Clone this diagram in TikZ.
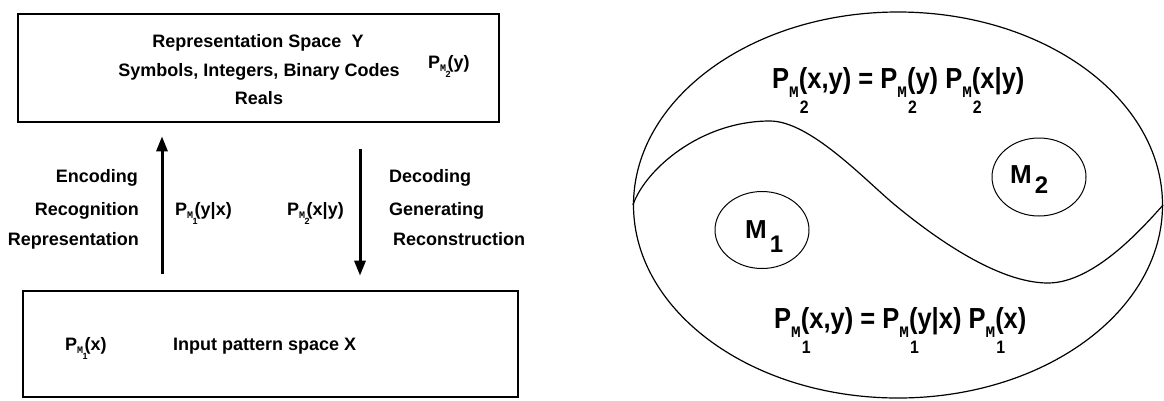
\documentclass[tikz,border=0pt]{standalone}
\usepackage{fontspec}
\setmainfont{Liberation Sans}
\newfontfamily\narrowf{Liberation Sans}[FakeStretch=0.88]
\newfontfamily\monof{Liberation Mono}
\usetikzlibrary{arrows.meta,shapes.geometric}
\newcommand\PMs[1]{P\raisebox{-3pt}{\fontsize{10}{10}\selectfont\monof\bfseries M}\rlap{\kern-0.5pt\raisebox{-9pt}{\fontsize{9}{9}\selectfont\bfseries #1}}\kern1.5pt}
\newcommand\PMl[1]{P\raisebox{-9pt}{\fontsize{16}{16}\selectfont\monof\bfseries M}\rlap{\kern1pt\raisebox{-25pt}{\fontsize{18}{18}\selectfont\narrowf\bfseries #1}}}
\begin{document}
\begin{tikzpicture}[x=1pt,y=-1pt,
  box/.style={draw, line width=2.6pt, inner sep=0pt},
  lab/.style={font=\fontsize{18}{18}\selectfont\bfseries, inner sep=0pt},
  eq/.style={font=\fontsize{29}{29}\selectfont\narrowf\bfseries, inner sep=0pt},
  mlab/.style={font=\fontsize{26}{26}\selectfont\bfseries, inner sep=0pt},
  oval/.style={draw, ellipse, line width=1pt, inner sep=0pt},
  bigarrow/.style={line width=3pt, -{Triangle[length=15pt,width=11pt]}}]
\useasboundingbox (0,0) rectangle (1164,400);
% left boxes
\node[box, minimum width=481pt, minimum height=108pt] (Y) at (258.5,68) {};
\node[box, minimum width=495pt, minimum height=106pt] (X) at (270.5,344) {};
\node[lab, anchor=base] (t1) at (258,47) {Representation Space\ \ Y};
\node[lab, anchor=base] (t2) at (259,76) {Symbols, Integers, Binary Codes};
\node[lab, anchor=base] (t3) at (259,104) {Reals};
\node[lab, anchor=base west] (py) at (428,68) {\PMs{2}(y)};
\node[lab, anchor=base west] (px) at (65,350) {\PMs{1}(x)};
\node[lab, anchor=base west] (ip) at (173,350) {Input pattern space X};
% arrows
\coordinate (upx) at (162,0);
\coordinate (dnx) at (360,0);
\draw[bigarrow, shorten <=16pt, shorten >=13pt] (X.north -| upx) -- (Y.south -| upx);
\draw[bigarrow, shorten <=26pt, shorten >=14pt] (Y.south -| dnx) -- (X.north -| dnx);
\node[lab, anchor=base east] (enc) at (138,182) {Encoding};
\node[lab, anchor=base east] (rec) at (139,215) {Recognition};
\node[lab, anchor=base east] (rep) at (139,245) {Representation};
\node[lab, anchor=base west] (pyx) at (175,215) {\PMs{1}(y|x)};
\node[lab, anchor=base west] (pxy) at (287,215) {\PMs{2}(x|y)};
\node[lab, anchor=base west] (dec) at (389,182) {Decoding};
\node[lab, anchor=base west] (gen) at (389,215) {Generating};
\node[lab, anchor=base west] (rcn) at (393,245) {Reconstruction};
% right diagram
\node[oval, line width=1.2pt, minimum width=529pt, minimum height=386pt] (E) at (898,205) {};
\draw[line width=1.2pt] (E.west) .. controls (645,170) and (700,121) .. (770,121)
  .. controls (810,121) and (865,180) .. (895,205)
  .. controls (935,238) and (998,283) .. (1048,283)
  .. controls (1095,283) and (1145,225) .. (E.east);
\node[oval, minimum width=94pt, minimum height=77pt] (M1) at (762,230) {};
\node[oval, minimum width=94pt, minimum height=78pt] (M2) at (1039,177) {};
\node[mlab, anchor=base west] (m1t) at (745,238) {M\kern3pt\raisebox{-14pt}{\fontsize{24}{24}\selectfont 1}};
\node[mlab, anchor=base west] (m2t) at (1010,183) {M\kern3pt\raisebox{-10pt}{\fontsize{24}{24}\selectfont 2}};
\node[eq, anchor=base west] (eqt) at (772,88) {\PMl{2}(x,y) = \PMl{2}(y) \PMl{2}(x|y)};
\node[eq, anchor=base west] (eqb) at (774,328) {\PMl{1}(x,y) = \PMl{1}(y|x) \PMl{1}(x)};
\end{tikzpicture}
\end{document}
